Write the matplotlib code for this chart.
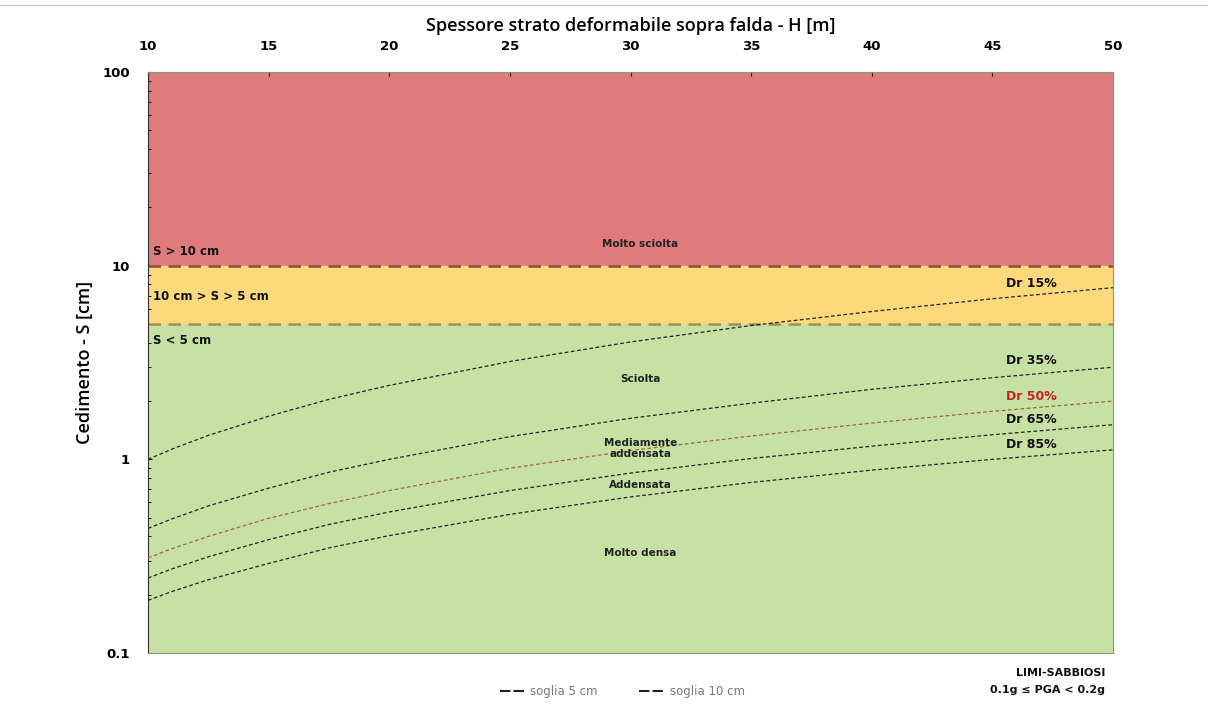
import matplotlib.pyplot as plt
from matplotlib.lines import Line2D

# spessore H [m] e cedimenti S [cm]
H = [10, 11, 12.5, 15, 17.5, 20, 25, 30, 35, 40, 45, 50]
dr15 = [1.0, 1.13, 1.33, 1.67, 2.04, 2.41, 3.2, 4.04, 4.91, 5.8, 6.75, 7.7]
dr35 = [0.44, 0.493, 0.575, 0.71, 0.858, 1.0, 1.31, 1.63, 1.95, 2.3, 2.64, 2.99]
dr50 = [0.31, 0.346, 0.40, 0.496, 0.591, 0.69, 0.90, 1.11, 1.32, 1.54, 1.77, 2.0]
dr65 = [0.244, 0.272, 0.314, 0.385, 0.461, 0.535, 0.69, 0.85, 1.01, 1.17, 1.34, 1.51]
dr85 = [0.187, 0.208, 0.239, 0.29, 0.349, 0.404, 0.52, 0.64, 0.76, 0.88, 1.0, 1.12]

soglia5 = 5
soglia10 = 10

zone = ["Molto sciolta", "Sciolta", "Mediamente\naddensata", "Addensata", "Molto densa"]
zone_y = [13, 2.6, 1.14, 0.74, 0.33]
curve_lbl = ["Dr 15%", "Dr 35%", "Dr 50%", "Dr 65%", "Dr 85%"]
curve_lbl_y = [8.1, 3.24, 2.11, 1.61, 1.2]
soglie_lbl = ["S > 10 cm", "10 cm > S > 5 cm", "S < 5 cm"]
soglie_lbl_y = [11.9, 6.9, 4.1]

fig = plt.figure(figsize=(12.08, 7.04), dpi=100)
ax = fig.add_axes([0.1225, 0.0724, 0.7989, 0.8253])
ax.set_yscale("log")
ax.set_xlim(10, 50)
ax.set_ylim(0.1, 100)

# fasce colorate
ax.axhspan(10, 100, color="#DF7B7C", zorder=0)
ax.axhspan(5, 10, color="#FDD97C", zorder=0)
ax.axhspan(0.1, 5, color="#C7E1A5", zorder=0)

ax.axhline(soglia10, color="#8E4A3A", lw=1.8, ls=(0, (5, 3)), zorder=2)
ax.axhline(soglia5, color="#A38F55", lw=1.8, ls=(0, (5, 3)), zorder=2)

for s, c in zip([dr15, dr35, dr50, dr65, dr85],
                ["#222222", "#222222", "#9A6B3A", "#222222", "#222222"]):
    ax.plot(H, s, color=c, lw=0.9, ls=(0, (3, 2)), zorder=3)

for t, y in zip(zone, zone_y):
    ax.text(30.4, y, t, ha="center", va="center", fontsize=7.5,
            fontweight="bold", color="#222222", linespacing=1.2)

for t, y in zip(curve_lbl, curve_lbl_y):
    ax.text(46.6, y, t, ha="center", va="center", fontsize=9,
            fontweight="bold", color="#C42020" if t == "Dr 50%" else "#111111")

for t, y in zip(soglie_lbl, soglie_lbl_y):
    ax.text(10.2, y, t, ha="left", va="center", fontsize=8.5,
            fontweight="bold", color="#111111")

ax.set_yticks([0.1, 1, 10, 100])
ax.set_yticklabels(["0.1", "1", "10", "100"])
ax.xaxis.tick_top()
ax.xaxis.set_label_position("top")
ax.set_xticks([10, 15, 20, 25, 30, 35, 40, 45, 50])
ax.tick_params(axis="both", labelsize=9.5, direction="in", length=3)
ax.tick_params(axis="x", pad=14)
ax.tick_params(axis="y", pad=13)
for lbl in ax.get_xticklabels() + ax.get_yticklabels():
    lbl.set_fontweight("bold")
ax.tick_params(axis="y", which="minor", direction="in", length=2)

ax.set_xlabel("Spessore strato deformabile sopra falda - H [m]",
              fontsize=13, family="Open Sans", fontweight="semibold", labelpad=6)
ax.set_ylabel("Cedimento - S [cm]", fontsize=13, family="Open Sans",
              fontweight="semibold", labelpad=6)

ax.spines["left"].set_color("#333333")
for sp in ["top", "right", "bottom"]:
    ax.spines[sp].set_color("#8A9A7A")

fig.text(0.915, 0.044, "LIMI-SABBIOSI", ha="right", va="center",
         fontsize=8, fontweight="bold", color="#111111")
fig.text(0.915, 0.020, "0.1g \u2264 PGA < 0.2g", ha="right", va="center",
         fontsize=8, fontweight="bold", color="#111111")

handles = [Line2D([], [], color="#222222", lw=1.5, ls=(0, (5, 1.5))),
           Line2D([], [], color="#222222", lw=1.5, ls=(0, (5, 1.5)))]
leg = fig.legend(handles, ["soglia 5 cm", "soglia 10 cm"], loc="center",
                 bbox_to_anchor=(0.515, 0.018), ncol=2, frameon=False,
                 fontsize=8.5, handlelength=2.2, handletextpad=0.4,
                 columnspacing=3.5)
for t in leg.get_texts():
    t.set_color("#777777")

fig.add_artist(Line2D([0.0, 1.0], [0.993, 0.993], color="#CCCCCC", lw=1))

fig.savefig("out.png", dpi=100)
